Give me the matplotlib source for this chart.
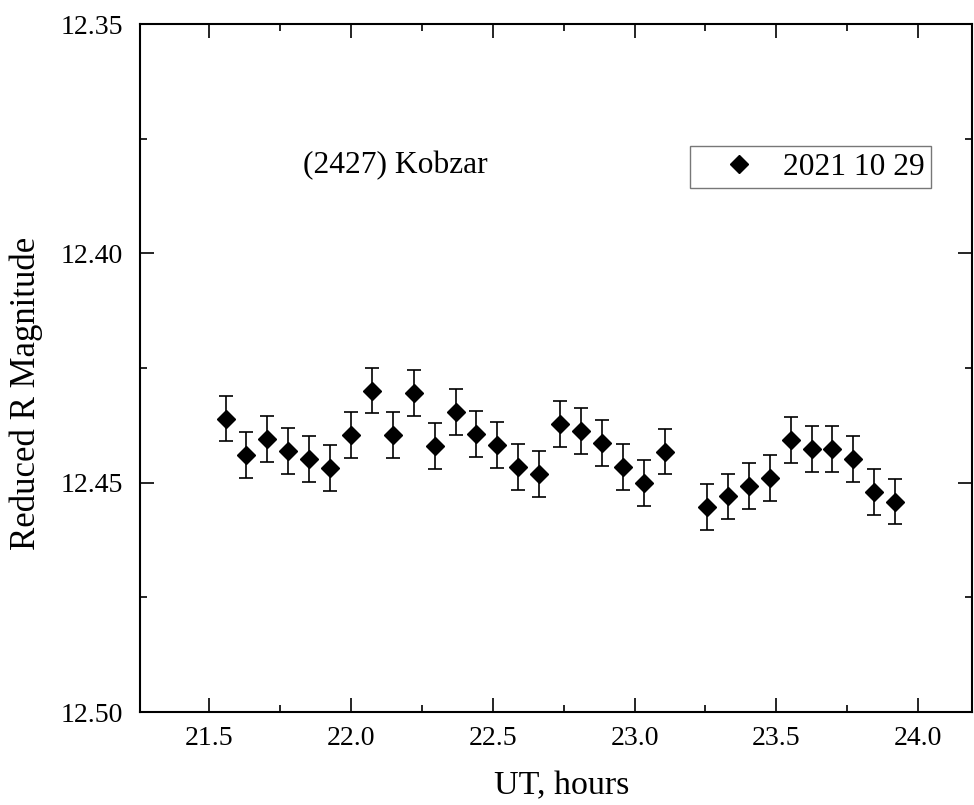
import matplotlib.pyplot as plt
from matplotlib.ticker import MultipleLocator

# UT (hours) and reduced R magnitude
ut = [21.558, 21.631, 21.705, 21.778, 21.852, 21.926, 21.999, 22.073,
      22.147, 22.221, 22.295, 22.369, 22.442, 22.515, 22.590, 22.664,
      22.737, 22.812, 22.886, 22.960, 23.033, 23.107,
      23.254, 23.328, 23.403, 23.476, 23.550, 23.624, 23.697, 23.771,
      23.845, 23.919]
mag = [12.4360, 12.4439, 12.4405, 12.4431, 12.4448, 12.4467, 12.4396, 12.4299,
       12.4396, 12.4305, 12.4419, 12.4345, 12.4394, 12.4417, 12.4466, 12.4481,
       12.4372, 12.4388, 12.4414, 12.4465, 12.4500, 12.4432,
       12.4552, 12.4530, 12.4507, 12.4489, 12.4406, 12.4426, 12.4427, 12.4448,
       12.4521, 12.4541]
err = [0.005] * len(ut)

plt.rcParams['font.family'] = ['Liberation Serif', 'DejaVu Serif']

fig = plt.figure(figsize=(9.74, 8.05), dpi=100)
ax = fig.add_axes([0.1437, 0.1155, 0.8543, 0.8545])

# error bars first, markers on top (so the legend shows only the diamond)
ax.errorbar(ut, mag, yerr=err, fmt='none', ecolor='black',
            elinewidth=1.2, capsize=5, capthick=1.2)
ax.plot(ut, mag, 'D', color='black', ms=9, label='2021 10 29')

ax.set_xlim(21.256, 24.19)
ax.set_ylim(12.50, 12.35)

ax.xaxis.set_major_locator(MultipleLocator(0.5))
ax.xaxis.set_minor_locator(MultipleLocator(0.25))
ax.yaxis.set_major_locator(MultipleLocator(0.05))
ax.yaxis.set_minor_locator(MultipleLocator(0.025))
ax.xaxis.set_major_formatter(plt.FormatStrFormatter('%.1f'))
ax.yaxis.set_major_formatter(plt.FormatStrFormatter('%.2f'))

ax.tick_params(which='both', direction='in', top=True, right=True,
               width=1.2, labelsize=20)
ax.tick_params(which='major', length=10)
ax.tick_params(which='minor', length=5)
ax.tick_params(axis='x', pad=10)
ax.tick_params(axis='y', pad=12)
for s in ax.spines.values():
    s.set_linewidth(1.5)

ax.set_xlabel('UT, hours', fontsize=24.5)
ax.set_ylabel('Reduced R Magnitude', fontsize=25)
ax.xaxis.set_label_coords(0.507, -0.085)
ax.yaxis.set_label_coords(-0.1166, 0.4637)

ax.text(21.832, 12.3808, '(2427) Kobzar', fontsize=22.7, ha='left', va='center')

leg = ax.legend(loc='upper right', bbox_to_anchor=(0.9695, 0.8455), fontsize=22.7,
                frameon=True, fancybox=False, handletextpad=0.05,
                borderpad=0.2, handlelength=2.7, numpoints=1)
leg.get_frame().set_edgecolor('#555555')
leg.get_frame().set_linewidth(1.0)

fig.savefig('out.png', dpi=100)
